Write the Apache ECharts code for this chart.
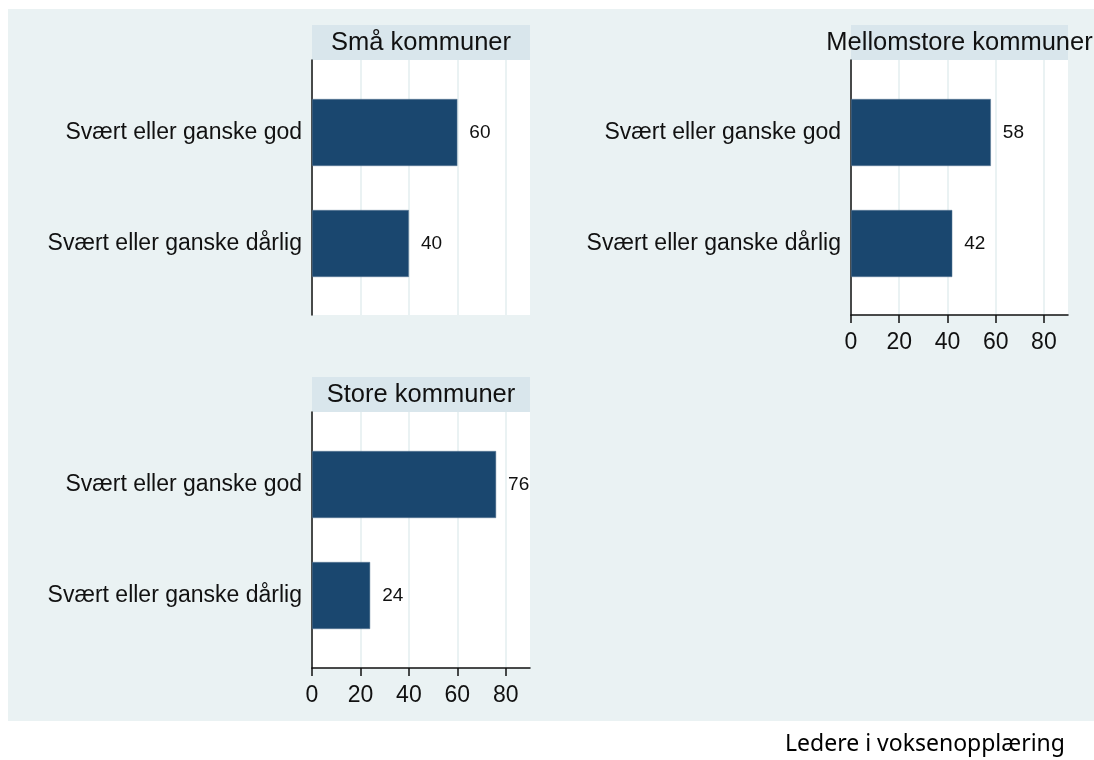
<!DOCTYPE html>
<html lang="no">
<head>
    <meta charset="UTF-8">
    <title>Ledere i voksenopplæring</title>
    <style>
        body { margin: 0; background: #fff; }
        #chart { width: 1094px; height: 760px; }
    </style>
</head>
<body>
<div id="chart"></div>

<script src="https://cdn.jsdelivr.net/npm/echarts@6/dist/echarts.min.js"></script>
<script>
    // data
    var categories = ['Svært eller ganske god', 'Svært eller ganske dårlig'];
    var panelTitles = ['Små kommuner', 'Mellomstore kommuner', 'Store kommuner'];
    var smaValues = [60, 40];
    var mellomValues = [58, 42];
    var storeValues = [76, 24];
    var tickValues = [0, 20, 40, 60, 80];
    var footerText = 'Ledere i voksenopplæring';

    var FONT = "'Liberation Sans', Arial, sans-serif";
    var BAR = '#1a476f';
    var BG = '#eaf2f3';
    var STRIP = '#d9e6ec';

    // panel boxes: plot area left/top/width/height, whether x labels show
    var panels = [
        {left: 312, top: 60, width: 218, height: 255, axis: false, values: smaValues},
        {left: 851, top: 60, width: 217, height: 255, axis: true, values: mellomValues},
        {left: 312, top: 412, width: 218, height: 256, axis: true, values: storeValues}
    ];

    var grid = [], xAxis = [], yAxis = [], series = [], title = [];
    var graphic = [
        {type: 'rect', z: -10, shape: {x: 8, y: 9, width: 1086, height: 712}, style: {fill: BG}}
    ];

    panels.forEach(function (p, i) {
        var bgIdx = grid.length;
        // white plot region with grid lines and axes
        grid.push({left: p.left, top: p.top, width: p.width, height: p.height,
            show: true, backgroundColor: '#fff', borderWidth: 0});
        xAxis.push({
            gridIndex: bgIdx, type: 'value', min: 0, max: 90,
            axisLine: {show: p.axis, onZero: false, lineStyle: {color: '#111', width: 1.5}},
            axisTick: {show: p.axis, length: 8, customValues: tickValues, lineStyle: {color: '#111', width: 1.5}},
            axisLabel: {show: p.axis, customValues: tickValues, fontSize: 23, color: '#111',
                fontFamily: FONT, margin: 16},
            splitLine: {show: true, lineStyle: {color: BG, width: 2}}
        });
        yAxis.push({
            gridIndex: bgIdx, type: 'value', min: 0, max: 1,
            axisLine: {show: true, onZero: false, lineStyle: {color: '#111', width: 1.5}},
            axisTick: {show: false}, axisLabel: {show: false}, splitLine: {show: false}
        });

        // bars sit in an inner band of the plot region
        var barIdx = grid.length;
        grid.push({left: p.left, top: p.top + 17, width: p.width, height: 222});
        xAxis.push({gridIndex: barIdx, type: 'value', min: 0, max: 90, show: false});
        yAxis.push({
            gridIndex: barIdx, type: 'category', data: categories, inverse: true,
            axisLine: {show: false}, axisTick: {show: false},
            axisLabel: {fontSize: 23, color: '#111', fontFamily: FONT, margin: 10}
        });
        series.push({
            type: 'bar', xAxisIndex: barIdx, yAxisIndex: barIdx,
            data: p.values, barWidth: 67,
            itemStyle: {color: BAR, borderColor: '#5c7a96', borderWidth: 0.5},
            label: {show: true, position: 'right', distance: 12, fontSize: 19,
                color: '#111', fontFamily: FONT}
        });

        // title strip
        graphic.push({type: 'rect', z: -5,
            shape: {x: p.left, y: p.top - 35, width: p.width, height: 35},
            style: {fill: STRIP}});
        title.push({
            text: panelTitles[i],
            left: p.left + p.width / 2, top: p.top - 30, textAlign: 'center',
            padding: 0,
            textStyle: {fontSize: 25.5, fontWeight: 'normal', color: '#111', fontFamily: FONT}
        });
    });

    graphic.push({type: 'text', left: 785, top: 733,
        style: {text: footerText, fontSize: 23, fill: '#000', fontFamily: "'Noto Sans', sans-serif"}});

    var myChart = echarts.init(document.getElementById('chart'));
    myChart.setOption({
        animation: false,
        backgroundColor: '#fff',
        title: title,
        grid: grid,
        xAxis: xAxis,
        yAxis: yAxis,
        series: series,
        graphic: graphic
    });
</script>
</body>
</html>
